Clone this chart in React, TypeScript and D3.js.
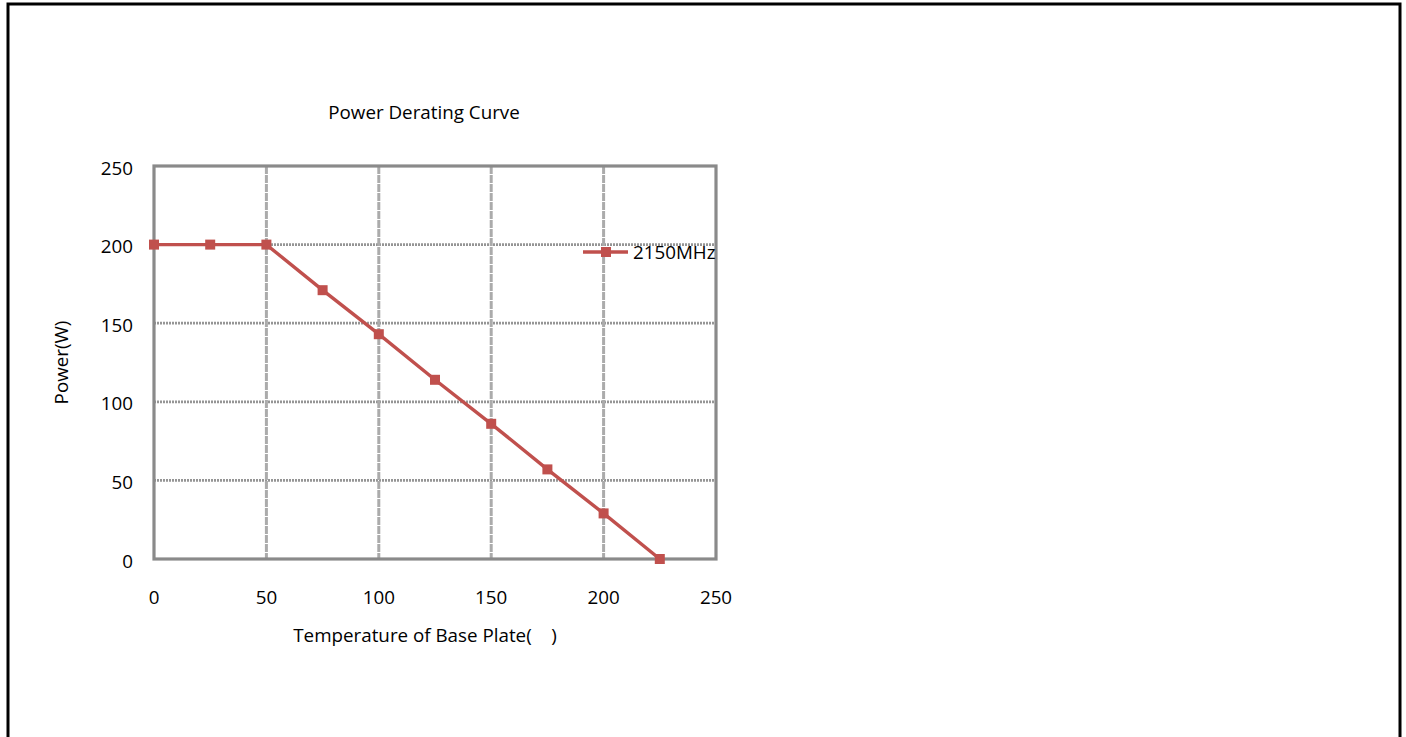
import React from 'react';
import * as d3 from 'd3';

const temps = [0, 25, 50, 75, 100, 125, 150, 175, 200, 225];
const power = [200, 200, 200, 171, 143, 114, 86, 57, 29, 0];
const xTicks = [0, 50, 100, 150, 200, 250];
const yTicks = [0, 50, 100, 150, 200, 250];
const seriesName = '2150MHz';
const title = 'Power Derating Curve';
const xTitle = 'Temperature of Base Plate(\u00a0\u00a0\u00a0\u00a0)';
const yTitle = 'Power(W)';

const WIDTH = 1406;
const HEIGHT = 737;
const FONT = "'Open Sans', Lato, sans-serif";
const FS = 18.8;
const RED = '#C0504D';
// plot box in page pixels
const margin = { l: 154, t: 166, r: 716, b: 559 };

const App = () => {
  const x = d3.scaleLinear().domain([0, 250]).range([margin.l, margin.r]);
  const y = d3.scaleLinear().domain([0, 250]).range([margin.b, margin.t]);

  const line = d3
    .line<number>()
    .x((d, i) => x(temps[i]))
    .y((d) => y(d));

  return (
    <svg
      width={WIDTH}
      height={HEIGHT}
      style={{ position: 'absolute', left: 0, top: 0, background: '#fff' }}
      fontFamily={FONT}
    >
      {/* outer frame, bottom edge runs off the page */}
      <rect x={8} y={4} width={1392} height={800} fill="none" stroke="#000" strokeWidth={3} />

      <text x={424} y={119} textAnchor="middle" fontSize={FS} fill="#000">
        {title}
      </text>

      {/* grid */}
      <g stroke="#959595" strokeWidth={2.8} strokeDasharray="2 1">
        {yTicks.slice(1, -1).map((t) => (
          <line key={'h' + t} x1={margin.l} x2={margin.r} y1={y(t)} y2={y(t)} />
        ))}
      </g>
      <g stroke="#ababab" strokeWidth={3} strokeDasharray="8 1">
        {xTicks.slice(1, -1).map((t) => (
          <line key={'v' + t} x1={x(t)} x2={x(t)} y1={margin.t} y2={margin.b} />
        ))}
      </g>
      <rect
        x={margin.l}
        y={margin.t}
        width={margin.r - margin.l}
        height={margin.b - margin.t}
        fill="none"
        stroke="#8a8a8a"
        strokeWidth={3.2}
      />

      {/* tick labels */}
      <g fontSize={FS} fill="#000">
        {yTicks.map((t) => (
          <text key={'yl' + t} x={133} y={y(t) + 2} dy="0.35em" textAnchor="end">
            {t}
          </text>
        ))}
        {xTicks.map((t) => (
          <text key={'xl' + t} x={x(t)} y={604} textAnchor="middle">
            {t}
          </text>
        ))}
      </g>

      <text x={425} y={642} textAnchor="middle" fontSize={FS} fill="#000">
        {xTitle}
      </text>
      <text
        transform={`translate(68, ${(margin.t + margin.b) / 2}) rotate(-90)`}
        textAnchor="middle"
        fontSize={FS}
        fill="#000"
      >
        {yTitle}
      </text>

      {/* series */}
      <path d={line(power) || ''} fill="none" stroke={RED} strokeWidth={3.4} />
      {power.map((d, i) => (
        <rect key={i} x={x(temps[i]) - 5} y={y(d) - 5} width={10} height={10} fill={RED} />
      ))}

      {/* legend */}
      <g transform="translate(583, 252)">
        <line x1={0} x2={45} y1={0} y2={0} stroke={RED} strokeWidth={3.4} />
        <rect x={18} y={-5} width={10} height={10} fill={RED} />
        <text x={50} dy="0.35em" fontSize={FS} fill="#000">
          {seriesName}
        </text>
      </g>
    </svg>
  );
};

export default App;
